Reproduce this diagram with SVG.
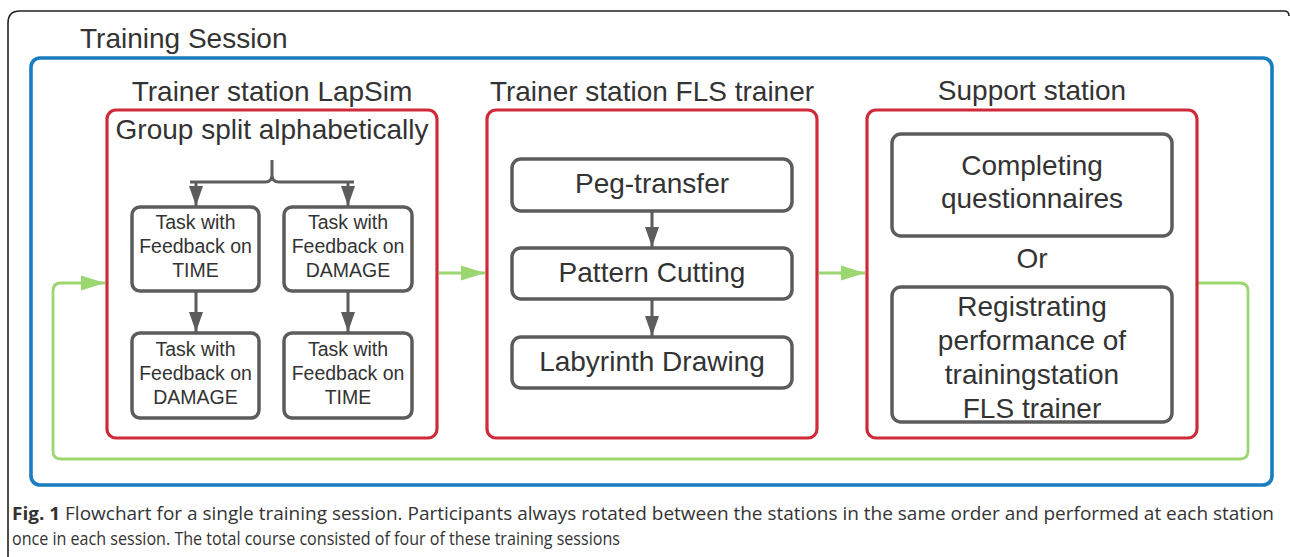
<svg xmlns="http://www.w3.org/2000/svg" width="1290" height="557" viewBox="0 0 1290 557">
<style>
.t{font-family:"Liberation Sans",Arial,sans-serif;fill:#333;text-anchor:middle}
.big{font-size:28px}
.sm{font-size:19.5px}
.red{fill:none;stroke:#cf2a3a;stroke-width:3.2}
.box{fill:#fff;stroke:#5c5c5c;stroke-width:3.5}
.ga{fill:none;stroke:#5c5c5c;stroke-width:3}
.gr{fill:none;stroke:#9bd670;stroke-width:2.8}
.cap{font-family:"Open Sans","Liberation Sans",sans-serif;font-size:18.5px;fill:#333}
</style>
<defs>
<marker id="ah" markerUnits="userSpaceOnUse" markerWidth="20" markerHeight="14" refX="20" refY="7" orient="auto"><path d="M0,0 L20,7 L0,14 z" fill="#5c5c5c"/></marker>
<marker id="gh" markerUnits="userSpaceOnUse" markerWidth="24" markerHeight="16" refX="24" refY="8" orient="auto"><path d="M0,0.5 L24,8 L0,15.5 z" fill="#9bd670"/></marker>
</defs>
<rect width="1290" height="557" fill="#fff"/>
<path d="M8,557 V23 Q8,11 20,11 H1284 Q1289,11 1289,16" fill="none" stroke="#222" stroke-width="1.6"/>
<g id="session">
<rect x="31" y="58" width="1241" height="427" rx="9" fill="none" stroke="#1a7dc1" stroke-width="3.6"/>
<text class="t big" x="80" y="48" style="text-anchor:start">Training Session</text>
</g>
<g id="connectors">
<path class="ga" d="M190,182 H265 Q272,182 272,175 V160 M272,175 Q272,182 279,182 H354"/>
<line class="ga" x1="196" y1="182" x2="196" y2="206" marker-end="url(#ah)"/>
<line class="ga" x1="348" y1="182" x2="348" y2="206" marker-end="url(#ah)"/>
<line class="ga" x1="196" y1="292" x2="196" y2="332" marker-end="url(#ah)"/>
<line class="ga" x1="348" y1="292" x2="348" y2="332" marker-end="url(#ah)"/>
<line class="ga" x1="652" y1="212" x2="652" y2="247" marker-end="url(#ah)"/>
<line class="ga" x1="652" y1="300" x2="652" y2="336" marker-end="url(#ah)"/>
<line class="gr" x1="439" y1="273" x2="485" y2="273" marker-end="url(#gh)"/>
<line class="gr" x1="819" y1="273" x2="865" y2="273" marker-end="url(#gh)"/>
<path class="gr" d="M1198,283 H1240 Q1248,283 1248,291 V451 Q1248,459 1240,459 H61 Q53,459 53,451 V291 Q53,283 61,283 H105" marker-end="url(#gh)"/>
</g>
<g id="lapsim">
<rect class="red" x="107" y="110" width="330" height="328" rx="9"/>
<text class="t big" x="272" y="101">Trainer station LapSim</text>
<text class="t big" x="272" y="139">Group split alphabetically</text>
</g>
<g id="task-tl">
<rect class="box" x="132" y="207" width="127" height="84" rx="8"/>
<text class="t sm" x="195.5" y="229">Task with</text>
<text class="t sm" x="195.5" y="253">Feedback on</text>
<text class="t sm" x="195.5" y="277">TIME</text>
</g>
<g id="task-tr">
<rect class="box" x="284" y="207" width="128" height="84" rx="8"/>
<text class="t sm" x="348" y="229">Task with</text>
<text class="t sm" x="348" y="253">Feedback on</text>
<text class="t sm" x="348" y="277">DAMAGE</text>
</g>
<g id="task-bl">
<rect class="box" x="132" y="333" width="127" height="85" rx="8"/>
<text class="t sm" x="195.5" y="356">Task with</text>
<text class="t sm" x="195.5" y="380">Feedback on</text>
<text class="t sm" x="195.5" y="404">DAMAGE</text>
</g>
<g id="task-br">
<rect class="box" x="284" y="333" width="128" height="85" rx="8"/>
<text class="t sm" x="348" y="356">Task with</text>
<text class="t sm" x="348" y="380">Feedback on</text>
<text class="t sm" x="348" y="404">TIME</text>
</g>
<g id="fls">
<rect class="red" x="487" y="110" width="330" height="328" rx="9"/>
<text class="t big" x="652" y="101">Trainer station FLS trainer</text>
</g>
<g id="peg">
<rect class="box" x="512" y="159" width="280" height="52" rx="9"/>
<text class="t big" x="652" y="193">Peg-transfer</text>
</g>
<g id="pattern">
<rect class="box" x="512" y="248" width="280" height="51" rx="9"/>
<text class="t big" x="652" y="282">Pattern Cutting</text>
</g>
<g id="labyrinth">
<rect class="box" x="512" y="337" width="280" height="51" rx="9"/>
<text class="t big" x="652" y="371">Labyrinth Drawing</text>
</g>
<g id="support">
<rect class="red" x="867" y="110" width="330" height="328" rx="9"/>
<text class="t big" x="1032" y="100">Support station</text>
<text class="t big" x="1032" y="268">Or</text>
</g>
<g id="questionnaires">
<rect class="box" x="892" y="134" width="280" height="102" rx="9"/>
<text class="t big" x="1032" y="175">Completing</text>
<text class="t big" x="1032" y="208">questionnaires</text>
</g>
<g id="registrating">
<rect class="box" x="892" y="287" width="280" height="135" rx="9"/>
<text class="t big" x="1032" y="316">Registrating</text>
<text class="t big" x="1032" y="350">performance of</text>
<text class="t big" x="1032" y="384">trainingstation</text>
<text class="t big" x="1032" y="418">FLS trainer</text>
</g>
<g id="caption">
<text class="cap" x="12" y="520" textLength="1262" lengthAdjust="spacingAndGlyphs"><tspan font-weight="bold">Fig. 1</tspan> Flowchart for a single training session. Participants always rotated between the stations in the same order and performed at each station</text>
<text class="cap" x="12" y="545" textLength="608" lengthAdjust="spacingAndGlyphs">once in each session. The total course consisted of four of these training sessions</text>
</g>
</svg>
